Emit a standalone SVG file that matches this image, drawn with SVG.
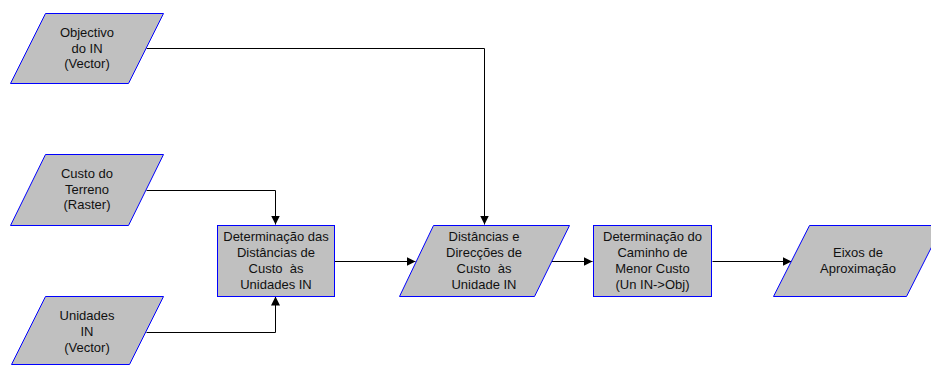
<svg xmlns="http://www.w3.org/2000/svg" width="931" height="365" viewBox="0 0 931 365">
<style>
.shape{fill:#C0C0C0;stroke:#0000FF;stroke-width:1}
.lbl{font-family:"Liberation Sans",Arial,sans-serif;font-size:13px;fill:#111;text-anchor:middle}
.conn{fill:none;stroke:#000;stroke-width:1}
</style>
<defs>
<marker id="arr" viewBox="0 0 10 10" refX="10" refY="5" markerWidth="9" markerHeight="9" markerUnits="userSpaceOnUse" orient="auto">
<path d="M0,0 L10,5 L0,10 Z" fill="#000"/>
</marker>
</defs>
<rect width="931" height="365" fill="#fff"/>
<g id="connectors">
<path class="conn" d="M146.5,48.5 H484.5 V224.5" marker-end="url(#arr)"/>
<path class="conn" d="M146.5,190.5 H275.5 V224.5" marker-end="url(#arr)"/>
<path class="conn" d="M146.5,332.5 H275.5 V296.5" marker-end="url(#arr)"/>
<path class="conn" d="M334.5,261.5 H415.5" marker-end="url(#arr)"/>
<path class="conn" d="M551.5,261.5 H592.5" marker-end="url(#arr)"/>
<path class="conn" d="M712.5,261.5 H791.5" marker-end="url(#arr)"/>
</g>
<g id="objectivo">
<polygon class="shape" points="45.5,13.5 163.5,13.5 128.5,83.5 10.5,83.5"/>
<text class="lbl" x="87" y="37">Objectivo</text>
<text class="lbl" x="87" y="52.5">do IN</text>
<text class="lbl" x="87" y="68">(Vector)</text>
</g>
<g id="custo">
<polygon class="shape" points="45.5,154.5 163.5,154.5 128.5,225.5 10.5,225.5"/>
<text class="lbl" x="87" y="178">Custo do</text>
<text class="lbl" x="87" y="193.5">Terreno</text>
<text class="lbl" x="87" y="209">(Raster)</text>
</g>
<g id="unidades">
<polygon class="shape" points="45.5,296.5 163.5,296.5 129.5,364.5 11.5,364.5"/>
<text class="lbl" x="87" y="320">Unidades</text>
<text class="lbl" x="87" y="336">IN</text>
<text class="lbl" x="87" y="352">(Vector)</text>
</g>
<g id="determinacao-distancias">
<rect class="shape" x="217.5" y="225.5" width="117" height="71"/>
<text class="lbl" x="276" y="241">Determinação das</text>
<text class="lbl" x="276" y="257">Distâncias de</text>
<text class="lbl" x="276" y="273" xml:space="preserve">Custo  às</text>
<text class="lbl" x="276" y="289">Unidades IN</text>
</g>
<g id="distancias-direccoes">
<polygon class="shape" points="433.5,225.5 569.5,225.5 534.5,296.5 399.5,296.5"/>
<text class="lbl" x="484" y="241">Distâncias e</text>
<text class="lbl" x="484" y="257">Direcções de</text>
<text class="lbl" x="484" y="273" xml:space="preserve">Custo  às</text>
<text class="lbl" x="484" y="289">Unidade IN</text>
</g>
<g id="determinacao-caminho">
<rect class="shape" x="593.5" y="225.5" width="118" height="71"/>
<text class="lbl" x="652.5" y="241">Determinação do</text>
<text class="lbl" x="652.5" y="257">Caminho de</text>
<text class="lbl" x="652.5" y="273">Menor Custo</text>
<text class="lbl" x="652.5" y="289">(Un IN-&gt;Obj)</text>
</g>
<g id="eixos">
<polygon class="shape" points="809.5,225.5 942.5,225.5 906.5,296.5 773.5,296.5"/>
<text class="lbl" x="858" y="257">Eixos de</text>
<text class="lbl" x="858" y="273">Aproximação</text>
</g>
</svg>
